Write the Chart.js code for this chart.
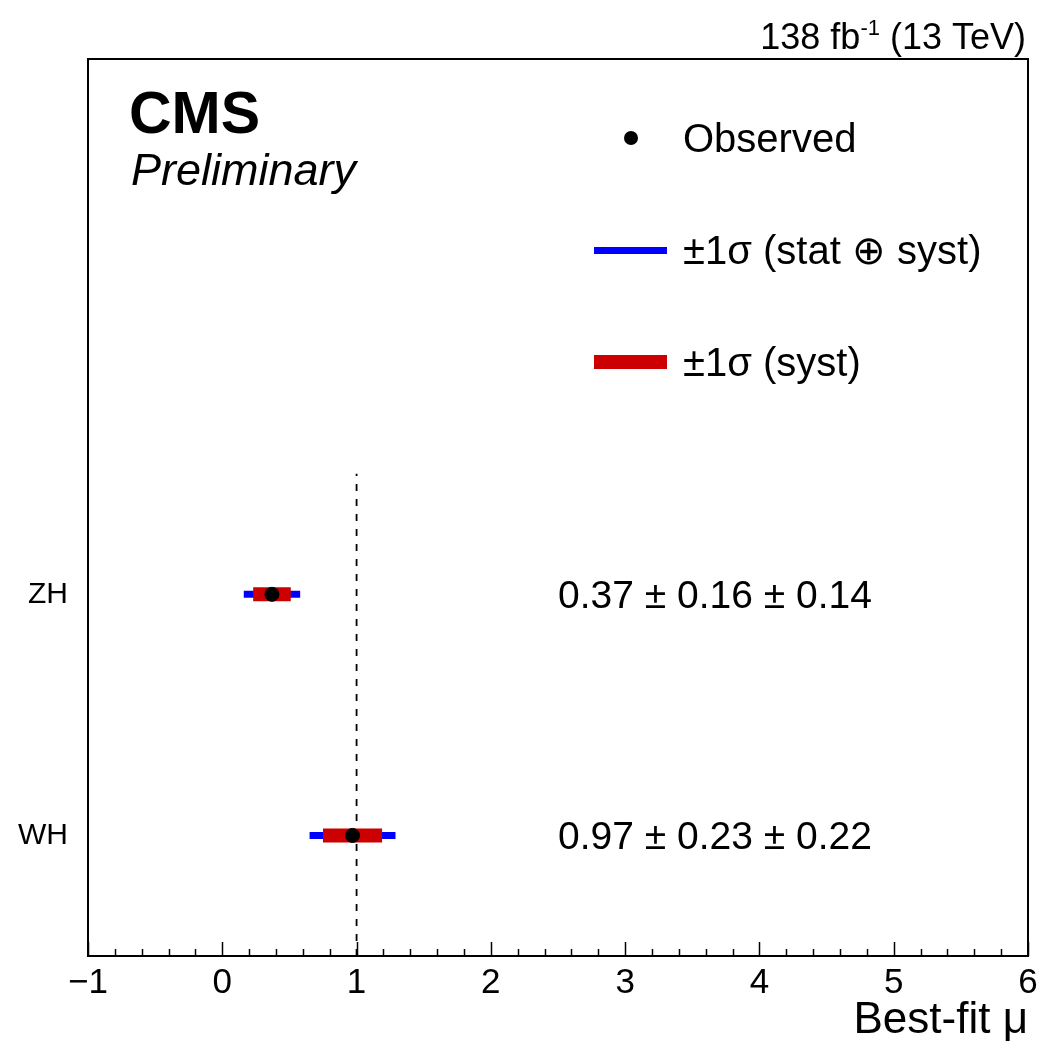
<!DOCTYPE html>
<html>
<head>
<meta charset="utf-8">
<script src="https://cdn.jsdelivr.net/npm/chart.js@4.4.1/dist/chart.umd.min.js"></script>
<style>
  html, body { margin: 0; padding: 0; background: #fff; }
  #wrap { width: 1039px; height: 1047px; }
</style>
</head>
<body>
<div id="wrap"><canvas id="muChart" width="1039" height="1047"></canvas></div>
<script>
const FONT = '"Liberation Sans", Arial, Helvetica, sans-serif';

// rows, top to bottom
const categories = ['ZH', 'WH'];
const rowPos = [1.5, 0.5];
const mu = [0.37, 0.97];
const statErr = [0.16, 0.23];
const systErr = [0.14, 0.22];
const totalErr = [0.21, 0.32];   // stat (+) syst

const xTicks = [-1, 0, 1, 2, 3, 4, 5, 6];
const smLine = 1;          // SM expectation
const smLineTop = 2;

const totalSets = categories.map((c, i) => ({
    label: c + ' total',
    data: [{ x: mu[i] - totalErr[i], y: rowPos[i] }, { x: mu[i] + totalErr[i], y: rowPos[i] }],
    showLine: true,
    borderColor: '#0000ff',
    borderWidth: 7,
    borderCapStyle: 'butt',
    pointRadius: 0,
    order: 3
}));

const systSets = categories.map((c, i) => ({
    label: c + ' syst',
    data: [{ x: mu[i] - systErr[i], y: rowPos[i] }, { x: mu[i] + systErr[i], y: rowPos[i] }],
    showLine: true,
    borderColor: '#cc0000',
    borderWidth: 14,
    borderCapStyle: 'butt',
    pointRadius: 0,
    order: 2
}));

const fmtTick = v => v < 0 ? '\u2212' + Math.abs(v) : String(v);

const decorPlugin = {
    id: 'decor',
    afterDraw(chart) {
        const ctx = chart.ctx;
        const area = chart.chartArea;
        const xs = chart.scales.x;
        const ys = chart.scales.y;
        ctx.save();

        // frame
        ctx.strokeStyle = '#000';
        ctx.lineWidth = 2;
        ctx.strokeRect(area.left, area.top, area.right - area.left, area.bottom - area.top);

        // inward ticks on the bottom axis, 5 subdivisions
        ctx.lineWidth = 1.5;
        for (let k = 0; k <= (xTicks.length - 1) * 5; k++) {
            const v = xTicks[0] + k / 5;
            const px = Math.round(xs.getPixelForValue(v)) + 0.5;
            const len = k % 5 === 0 ? 14 : 7;
            ctx.beginPath();
            ctx.moveTo(px, area.bottom);
            ctx.lineTo(px, area.bottom - len);
            ctx.stroke();
        }

        ctx.fillStyle = '#000';
        ctx.textBaseline = 'alphabetic';

        // luminosity label
        ctx.textAlign = 'right';
        ctx.font = '36px ' + FONT;
        const tail = ' (13 TeV)';
        ctx.fillText(tail, area.right - 2, 49);
        let xr = area.right - 2 - ctx.measureText(tail).width;
        ctx.font = '22px ' + FONT;
        ctx.fillText('-1', xr, 35);
        xr -= ctx.measureText('-1').width;
        ctx.font = '36px ' + FONT;
        ctx.fillText('138 fb', xr, 49);

        // CMS Preliminary
        ctx.textAlign = 'left';
        ctx.font = 'bold 59px ' + FONT;
        ctx.fillText('CMS', 129, 133);
        ctx.font = 'italic 45px ' + FONT;
        ctx.fillText('Preliminary', 131, 185);

        // legend
        ctx.font = '40px ' + FONT;
        ctx.beginPath();
        ctx.arc(631, 138, 7, 0, Math.PI * 2);
        ctx.fill();
        ctx.fillText('Observed', 683, 152);
        ctx.fillStyle = '#0000ff';
        ctx.fillRect(594, 247, 73, 7);
        ctx.fillStyle = '#cc0000';
        ctx.fillRect(594, 355, 73, 14);
        ctx.fillStyle = '#000';
        ctx.fillText('\u00b11\u03c3 (stat \u2295 syst)', 683, 264);
        ctx.fillText('\u00b11\u03c3 (syst)', 683, 376);

        // per-row results
        ctx.font = '39px ' + FONT;
        categories.forEach((c, i) => {
            const py = ys.getPixelForValue(rowPos[i]);
            const txt = mu[i].toFixed(2) + ' \u00b1 ' + statErr[i].toFixed(2) + ' \u00b1 ' + systErr[i].toFixed(2);
            ctx.fillText(txt, xs.getPixelForValue(2.5), py + 14);
        });

        ctx.restore();
    }
};

new Chart(document.getElementById('muChart'), {
    type: 'scatter',
    data: {
        datasets: [
            {
                label: 'SM',
                data: [{ x: smLine, y: 0 }, { x: smLine, y: smLineTop }],
                showLine: true,
                borderColor: '#000',
                borderWidth: 1.8,
                borderDash: [7, 8],
                pointRadius: 0,
                order: 4
            },
            ...totalSets,
            ...systSets,
            {
                label: 'Observed',
                data: categories.map((c, i) => ({ x: mu[i], y: rowPos[i] })),
                backgroundColor: '#000',
                borderColor: '#000',
                pointRadius: 7,
                order: 1
            }
        ]
    },
    options: {
        responsive: false,
        animation: false,
        devicePixelRatio: 1,
        events: [],
        layout: { padding: { top: 59, right: 11, left: 0, bottom: 0 } },
        plugins: { legend: { display: false }, tooltip: { enabled: false } },
        scales: {
            x: {
                type: 'linear',
                min: -1,
                max: 6,
                afterFit: s => { s.height = 91; s.paddingLeft = 0; s.paddingRight = 0; },
                afterBuildTicks: s => { s.ticks = xTicks.map(v => ({ value: v })); },
                grid: { display: true, drawOnChartArea: false, drawTicks: false },
                border: { display: false },
                ticks: {
                    color: '#000',
                    font: { family: FONT, size: 35 },
                    padding: 6,
                    maxRotation: 0,
                    autoSkip: false,
                    callback: fmtTick
                },
                title: {
                    display: true,
                    text: 'Best-fit \u03bc',
                    align: 'end',
                    color: '#000',
                    font: { family: FONT, size: 44 },
                    padding: { top: 0, bottom: 0 }
                }
            },
            y: {
                type: 'linear',
                min: 0,
                max: 3.72,
                afterFit: s => { s.width = 88; s.paddingTop = 0; s.paddingBottom = 0; },
                afterBuildTicks: s => { s.ticks = rowPos.map(v => ({ value: v })); },
                grid: { display: true, drawOnChartArea: false, drawTicks: false },
                border: { display: false },
                ticks: {
                    color: '#000',
                    font: { family: FONT, size: 30 },
                    padding: 20,
                    autoSkip: false,
                    callback: v => categories[rowPos.indexOf(v)]
                }
            }
        }
    },
    plugins: [decorPlugin]
});
</script>
</body>
</html>
